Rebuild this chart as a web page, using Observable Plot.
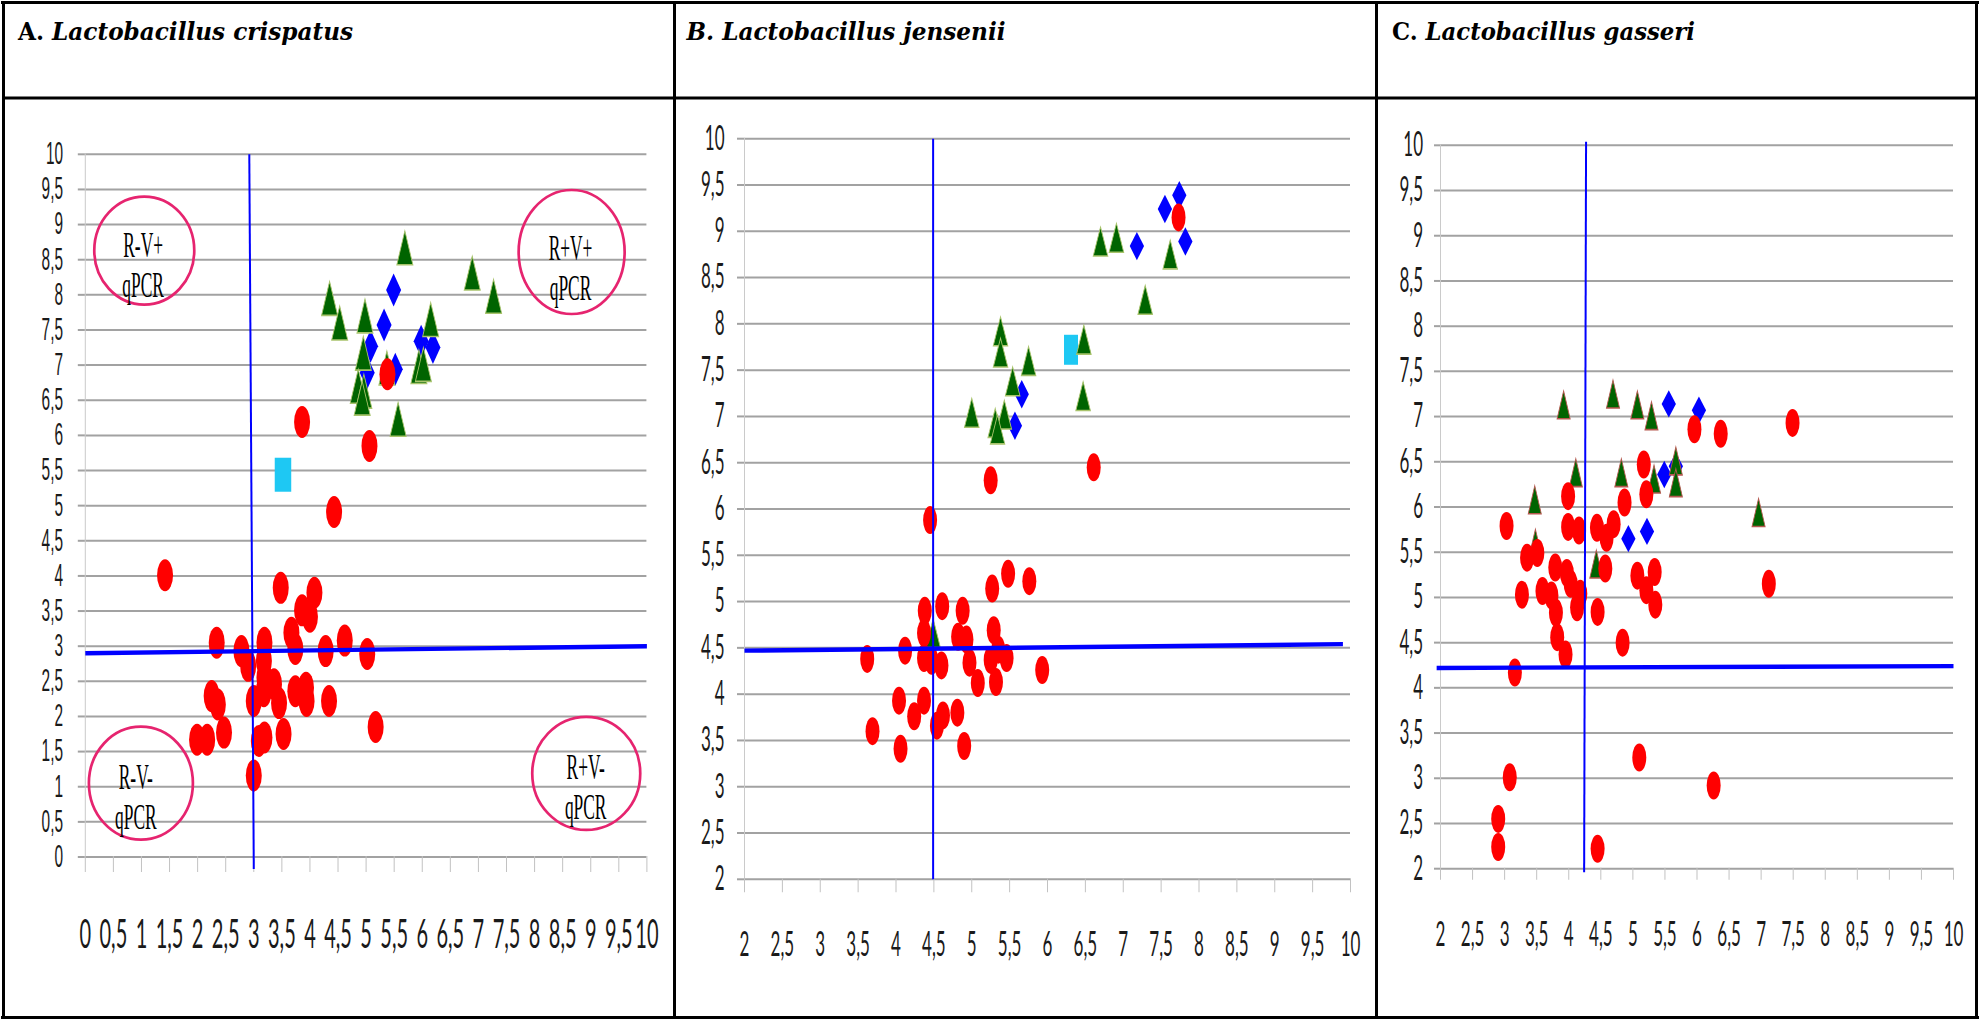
<!DOCTYPE html>
<html>
<head>
<meta charset="utf-8">
<script src="https://cdn.jsdelivr.net/npm/d3@7"></script>
<script src="https://cdn.jsdelivr.net/npm/@observablehq/plot@0.6"></script>
<style>
  body { margin: 0; background: #fff; }
  #page { position: relative; width: 1980px; height: 1020px; overflow: hidden; background: #fff; }
  #page > svg { position: absolute; }
</style>
</head>
<body>
<div id="page"></div>
<script>
// ---------- tick values ----------
const ticks0to10 = [0, 0.5, 1, 1.5, 2, 2.5, 3, 3.5, 4, 4.5, 5, 5.5, 6, 6.5, 7, 7.5, 8, 8.5, 9, 9.5, 10];
const ticks2to10 = [2, 2.5, 3, 3.5, 4, 4.5, 5, 5.5, 6, 6.5, 7, 7.5, 8, 8.5, 9, 9.5, 10];

// ---------- A. Lactobacillus crispatus ----------
const crispatusRed = [
  [1.42, 4.01], [3.48, 3.83], [4.08, 3.76], [3.86, 3.51], [4.00, 3.42], [3.67, 3.19],
  [2.34, 3.05], [2.78, 2.93], [3.19, 3.05], [3.74, 2.96], [4.28, 2.93], [4.62, 3.08],
  [5.02, 2.89], [2.90, 2.72], [3.18, 2.79], [3.19, 2.55], [2.25, 2.29], [2.36, 2.17],
  [3.00, 2.22], [3.18, 2.36], [3.36, 2.46], [3.45, 2.19], [3.74, 2.36], [3.93, 2.41],
  [3.94, 2.22], [4.34, 2.22], [1.99, 1.67], [2.17, 1.67], [2.47, 1.77], [3.09, 1.65],
  [3.19, 1.70], [3.53, 1.75], [3.00, 1.16], [5.17, 1.85],
  [3.86, 6.19], [5.06, 5.85], [4.43, 4.91], [5.38, 6.87]
];
const crispatusGreen = [
  [5.69, 8.67], [4.35, 7.95], [4.53, 7.60], [4.98, 7.70], [6.15, 7.65], [4.95, 7.17],
  [4.86, 6.70], [4.96, 6.63], [4.93, 6.53], [5.94, 6.98], [6.02, 7.01], [5.57, 6.23],
  [5.37, 6.96], [6.89, 8.31], [7.27, 7.98]
];
const crispatusBlue = [
  [5.49, 8.07], [5.32, 7.57], [5.08, 7.27], [5.02, 6.89], [5.52, 6.94], [5.98, 7.34], [6.19, 7.25]
];
const crispatusCyan = [[3.52, 5.44]];
const crispatusCutVertical = [{x1: 2.92, y1: 10, x2: 3.0, y2: -0.17}];
const crispatusCutHorizontal = [{x1: 0, y1: 2.9, x2: 10, y2: 3.0}];
const crispatusQuadrants = [
  {label: "R-V+\nqPCR", cx: 1.05, cy: 8.63, tx: 1.03, ty: 8.44},
  {label: "R+V+\nqPCR", cx: 8.66, cy: 8.61, tx: 8.64, ty: 8.39},
  {label: "R-V-\nqPCR", cx: 0.99, cy: 1.05, tx: 0.90, ty: 0.87},
  {label: "R+V-\nqPCR", cx: 8.92, cy: 1.19, tx: 8.91, ty: 1.01}
];

// ---------- B. Lactobacillus jensenii ----------
const jenseniiRed = [
  [7.73, 9.15], [6.61, 6.45], [5.25, 6.31], [4.45, 5.88],
  [5.48, 5.30], [5.76, 5.22], [5.27, 5.14],
  [4.38, 4.90], [4.61, 4.95], [4.88, 4.90],
  [4.37, 4.66], [5.29, 4.69], [4.82, 4.62], [4.93, 4.59],
  [4.12, 4.47], [4.37, 4.39], [4.47, 4.36], [4.60, 4.31], [4.97, 4.34], [5.08, 4.12],
  [5.25, 4.37], [5.35, 4.48], [5.46, 4.39], [5.32, 4.13], [5.93, 4.26], [3.62, 4.38],
  [4.04, 3.93], [4.24, 3.76], [4.37, 3.93], [4.54, 3.66], [4.62, 3.77], [4.81, 3.80],
  [3.69, 3.60], [4.06, 3.41], [4.90, 3.44]
];
const jenseniiGreen = [
  [6.70, 8.89], [6.91, 8.93], [7.62, 8.75], [7.29, 8.26], [6.48, 7.83], [6.47, 7.22],
  [5.38, 7.92], [5.38, 7.69], [5.75, 7.60], [5.54, 7.38], [5.00, 7.04], [5.43, 7.02],
  [5.31, 6.93], [5.34, 6.86], [4.49, 4.66]
];
const jenseniiBlue = [
  [7.74, 9.39], [7.55, 9.24], [7.82, 8.89], [7.18, 8.84], [5.66, 7.24], [5.57, 6.90]
];
const jenseniiCyan = [[6.31, 7.72]];
const jenseniiCutVertical = [{x1: 4.49, y1: 10, x2: 4.49, y2: 2}];
const jenseniiCutHorizontal = [{x1: 2, y1: 4.47, x2: 9.9, y2: 4.54}];

// ---------- C. Lactobacillus gasseri ----------
const gasseriRed = [
  [5.96, 6.86], [6.37, 6.81], [7.49, 6.93], [5.17, 6.47], [5.21, 6.14], [4.87, 6.05], [3.99, 6.12],
  [3.03, 5.79], [3.99, 5.78], [4.16, 5.74], [4.44, 5.77], [4.59, 5.66], [4.70, 5.81],
  [3.35, 5.44], [3.51, 5.49], [3.79, 5.33], [3.97, 5.27], [4.57, 5.32], [5.07, 5.24], [5.34, 5.28],
  [3.27, 5.03], [3.59, 5.07], [3.73, 5.02], [4.03, 5.15], [4.18, 5.04], [4.13, 4.89], [3.80, 4.83],
  [4.45, 4.84], [5.21, 5.08], [5.35, 4.92],
  [3.82, 4.56], [3.95, 4.37], [3.16, 4.17], [4.84, 4.50],
  [7.12, 5.15], [5.10, 3.23], [6.26, 2.92], [3.08, 3.01], [2.90, 2.55], [2.90, 2.24], [4.45, 2.22]
];
const gasseriGreen = [
  [3.92, 7.13], [4.69, 7.25], [5.07, 7.13], [5.29, 7.01], [4.11, 6.38], [4.82, 6.38],
  [5.33, 6.31], [5.67, 6.51], [5.67, 6.27], [3.47, 6.08], [6.96, 5.94], [4.43, 5.37], [3.48, 5.60]
];
const gasseriBlue = [
  [5.56, 7.14], [6.03, 7.07], [5.49, 6.36], [5.67, 6.45], [4.93, 5.65], [5.22, 5.73]
];
const gasseriCyan = [];
const gasseriCutVertical = [{x1: 4.27, y1: 10.04, x2: 4.24, y2: 1.96}];
const gasseriCutHorizontal = [{x1: 1.94, y1: 4.22, x2: 10, y2: 4.24}];

// ---------- helpers ----------
const comma = d => String(d).replace(".", ",");
const STRETCH = 2;          // every panel is drawn at half height and stretched vertically
const QUAD_STROKE = "#e6246f";

const triangleSym = (w, h) => ({draw(c) { c.moveTo(0, -h / 2); c.lineTo(w / 2, h / 2); c.lineTo(-w / 2, h / 2); c.closePath(); }});
const diamondSym = (w, h) => ({draw(c) { c.moveTo(0, -h / 2); c.lineTo(w / 2, 0); c.lineTo(0, h / 2); c.lineTo(-w / 2, 0); c.closePath(); }});
const rectSym = (w, h) => ({draw(c) { c.rect(-w / 2, -h / 2, w, h); }});
const ellipseSym = (w, h) => ({draw(c) {
  const a = w / 2, b = h / 2, k = 0.5523;
  c.moveTo(a, 0);
  c.bezierCurveTo(a, k * b, k * a, b, 0, b);
  c.bezierCurveTo(-k * a, b, -a, k * b, -a, 0);
  c.bezierCurveTo(-a, -k * b, -k * a, -b, 0, -b);
  c.bezierCurveTo(k * a, -b, a, -k * b, a, 0);
  c.closePath();
}});

const px = d => d[0], py = d => d[1];

function panel(cfg) {
  const marks = [
    Plot.gridY(cfg.yTicks, {stroke: "#a2a2a2", strokeOpacity: 1, strokeWidth: 1}),
    Plot.ruleX([cfg.xDomain[0]], {stroke: "#cacaca", strokeWidth: 1}),
    Plot.axisY(cfg.yTicks, {
      tickSize: cfg.tickY, tickPadding: cfg.padY, stroke: "#a2a2a2", fill: "#1a1a1a",
      fontSize: cfg.fontY, fontFamily: cfg.fontFamilyY, tickFormat: comma, label: null
    }),
    Plot.axisX(cfg.xTicks, {
      tickSize: cfg.tickX, tickPadding: cfg.padX, stroke: "#c2c2c2", fill: "#1a1a1a",
      fontSize: cfg.fontX, tickFormat: comma, label: null
    })
  ];
  if (cfg.quadrants) {
    cfg.quadrants.forEach((q, i) => {
      marks.push(Plot.dot([q], {x: "cx", y: "cy", symbol: ellipseSym(...cfg.quadSizes[i]),
        fill: "none", stroke: QUAD_STROKE, strokeWidth: 2.7}));
    });
    marks.push(Plot.text(cfg.quadrants, {x: "tx", y: "ty", text: "label",
      fontFamily: "Liberation Serif", fontSize: 17.4, lineHeight: 1.15, fill: "#000"}));
  }
  marks.push(
    Plot.dot(cfg.cyan, {x: px, y: py, symbol: rectSym(...cfg.sq), fill: "#1ec8f3"}),
    Plot.dot(cfg.blue, {x: px, y: py, symbol: diamondSym(...cfg.dia), fill: "#0000ff"}),
    Plot.dot(cfg.green, {x: px, y: py, symbol: triangleSym(...cfg.tri), fill: "#006400",
      stroke: cfg.triEdge, strokeWidth: 0.8}),
    Plot.dot(cfg.red, {x: px, y: py, r: cfg.r, fill: "#ff0000"}),
    Plot.link(cfg.cutV, {x1: "x1", y1: "y1", x2: "x2", y2: "y2", stroke: "#0000ff", strokeWidth: 2}),
    Plot.link(cfg.cutH, {x1: "x1", y1: "y1", x2: "x2", y2: "y2", stroke: "#0000ff", strokeWidth: 2.2})
  );

  const svg = Plot.plot({
    width: cfg.width,
    height: cfg.height,
    marginLeft: cfg.m[0], marginRight: cfg.m[1], marginTop: cfg.m[2], marginBottom: cfg.m[3],
    x: {type: "linear", domain: cfg.xDomain},
    y: {type: "linear", domain: cfg.yDomain},
    style: {fontFamily: "Lato, 'Liberation Sans', sans-serif", background: "#fff", overflow: "visible"},
    marks
  });

  // stretch the drawing vertically
  const shownHeight = cfg.height * STRETCH;
  svg.setAttribute("height", shownHeight);
  svg.setAttribute("preserveAspectRatio", "none");
  svg.style.cssText += `;position:absolute;left:${cfg.left}px;top:${cfg.top}px;width:${cfg.width}px;height:${shownHeight}px;max-width:none;overflow:visible;`;
  svg.querySelectorAll(`[stroke="${QUAD_STROKE}"] path, path[stroke="${QUAD_STROKE}"]`)
    .forEach(p => p.setAttribute("vector-effect", "non-scaling-stroke"));
  document.getElementById("page").appendChild(svg);
}

// ---------- table frame and headings ----------
const NS = "http://www.w3.org/2000/svg";
const frame = document.createElementNS(NS, "svg");
frame.setAttribute("width", 1980);
frame.setAttribute("height", 1020);
frame.style.left = "0px"; frame.style.top = "0px";
const rules = [
  [1, 1, 1978, 3], [1, 1016, 1978, 3], [2, 1, 3, 1018], [1975, 1, 3, 1018],
  [2, 96.5, 1976, 3], [673, 1, 3, 1018], [1375, 1, 3, 1018]
];
rules.forEach(([x, y, w, h]) => {
  const r = document.createElementNS(NS, "rect");
  r.setAttribute("x", x); r.setAttribute("y", y); r.setAttribute("width", w); r.setAttribute("height", h);
  r.setAttribute("fill", "#000");
  frame.appendChild(r);
});
const headings = [
  {x: 18, width: 335, lead: "A. ", leadItalic: false, species: "Lactobacillus crispatus"},
  {x: 686.5, width: 319, lead: "B. ", leadItalic: true, species: "Lactobacillus jensenii"},
  {x: 1392, width: 303, lead: "C. ", leadItalic: false, species: "Lactobacillus gasseri"}
];
headings.forEach(h => {
  const t = document.createElementNS(NS, "text");
  t.setAttribute("x", h.x); t.setAttribute("y", 39.5);
  t.setAttribute("font-family", "'DejaVu Serif', 'Liberation Serif', serif");
  t.setAttribute("font-weight", "bold");
  t.setAttribute("font-size", 24.5);
  t.setAttribute("textLength", h.width);
  t.setAttribute("lengthAdjust", "spacingAndGlyphs");
  const a = document.createElementNS(NS, "tspan");
  a.textContent = h.lead;
  if (h.leadItalic) a.setAttribute("font-style", "italic");
  const b = document.createElementNS(NS, "tspan");
  b.setAttribute("font-style", "italic");
  b.textContent = h.species;
  t.appendChild(a); t.appendChild(b);
  frame.appendChild(t);
});
document.getElementById("page").appendChild(frame);

// ---------- panels ----------
panel({
  left: 5, top: 100, width: 667, height: 458, m: [79.8, 25.6, 26.65, 80],
  xDomain: [0, 10], yDomain: [0, 10], xTicks: ticks0to10, yTicks: ticks0to10,
  tickX: 8, padX: 23.3, tickY: 7, padY: 15.3, fontX: 20, fontY: 15.4,
  fontFamilyY: "'Liberation Sans', sans-serif",
  r: 8, tri: [16, 17], dia: [15, 16.5], sq: [16.5, 17], triEdge: "#a9c46c",
  red: crispatusRed, green: crispatusGreen, blue: crispatusBlue, cyan: crispatusCyan,
  cutV: crispatusCutVertical, cutH: crispatusCutHorizontal,
  quadrants: crispatusQuadrants, quadSizes: [[100, 54], [106, 62], [104, 56.5], [108, 56.5]]
});
panel({
  left: 676, top: 100, width: 698, height: 458, m: [68, 24, 18.85, 68.85],
  xDomain: [2, 10], yDomain: [2, 10], xTicks: ticks2to10, yTicks: ticks2to10,
  tickX: 7, padX: 19.2, tickY: 7, padY: 13, fontX: 17, fontY: 17,
  r: 7, tri: [14.5, 14.5], dia: [14.3, 14.2], sq: [14, 15], triEdge: "#a9c46c",
  red: jenseniiRed, green: jenseniiGreen, blue: jenseniiBlue, cyan: jenseniiCyan,
  cutV: jenseniiCutVertical, cutH: jenseniiCutHorizontal
});
panel({
  left: 1378, top: 100, width: 597, height: 458, m: [62, 22, 22.15, 74.15],
  xDomain: [2, 10], yDomain: [2, 10], xTicks: ticks2to10, yTicks: ticks2to10,
  tickX: 6, padX: 20.5, tickY: 6, padY: 11.5, fontX: 17, fontY: 17,
  r: 7, tri: [13, 14], dia: [14.3, 13.7], sq: [14, 15], triEdge: "#b5584f",
  red: gasseriRed, green: gasseriGreen, blue: gasseriBlue, cyan: gasseriCyan,
  cutV: gasseriCutVertical, cutH: gasseriCutHorizontal
});
</script>
</body>
</html>
